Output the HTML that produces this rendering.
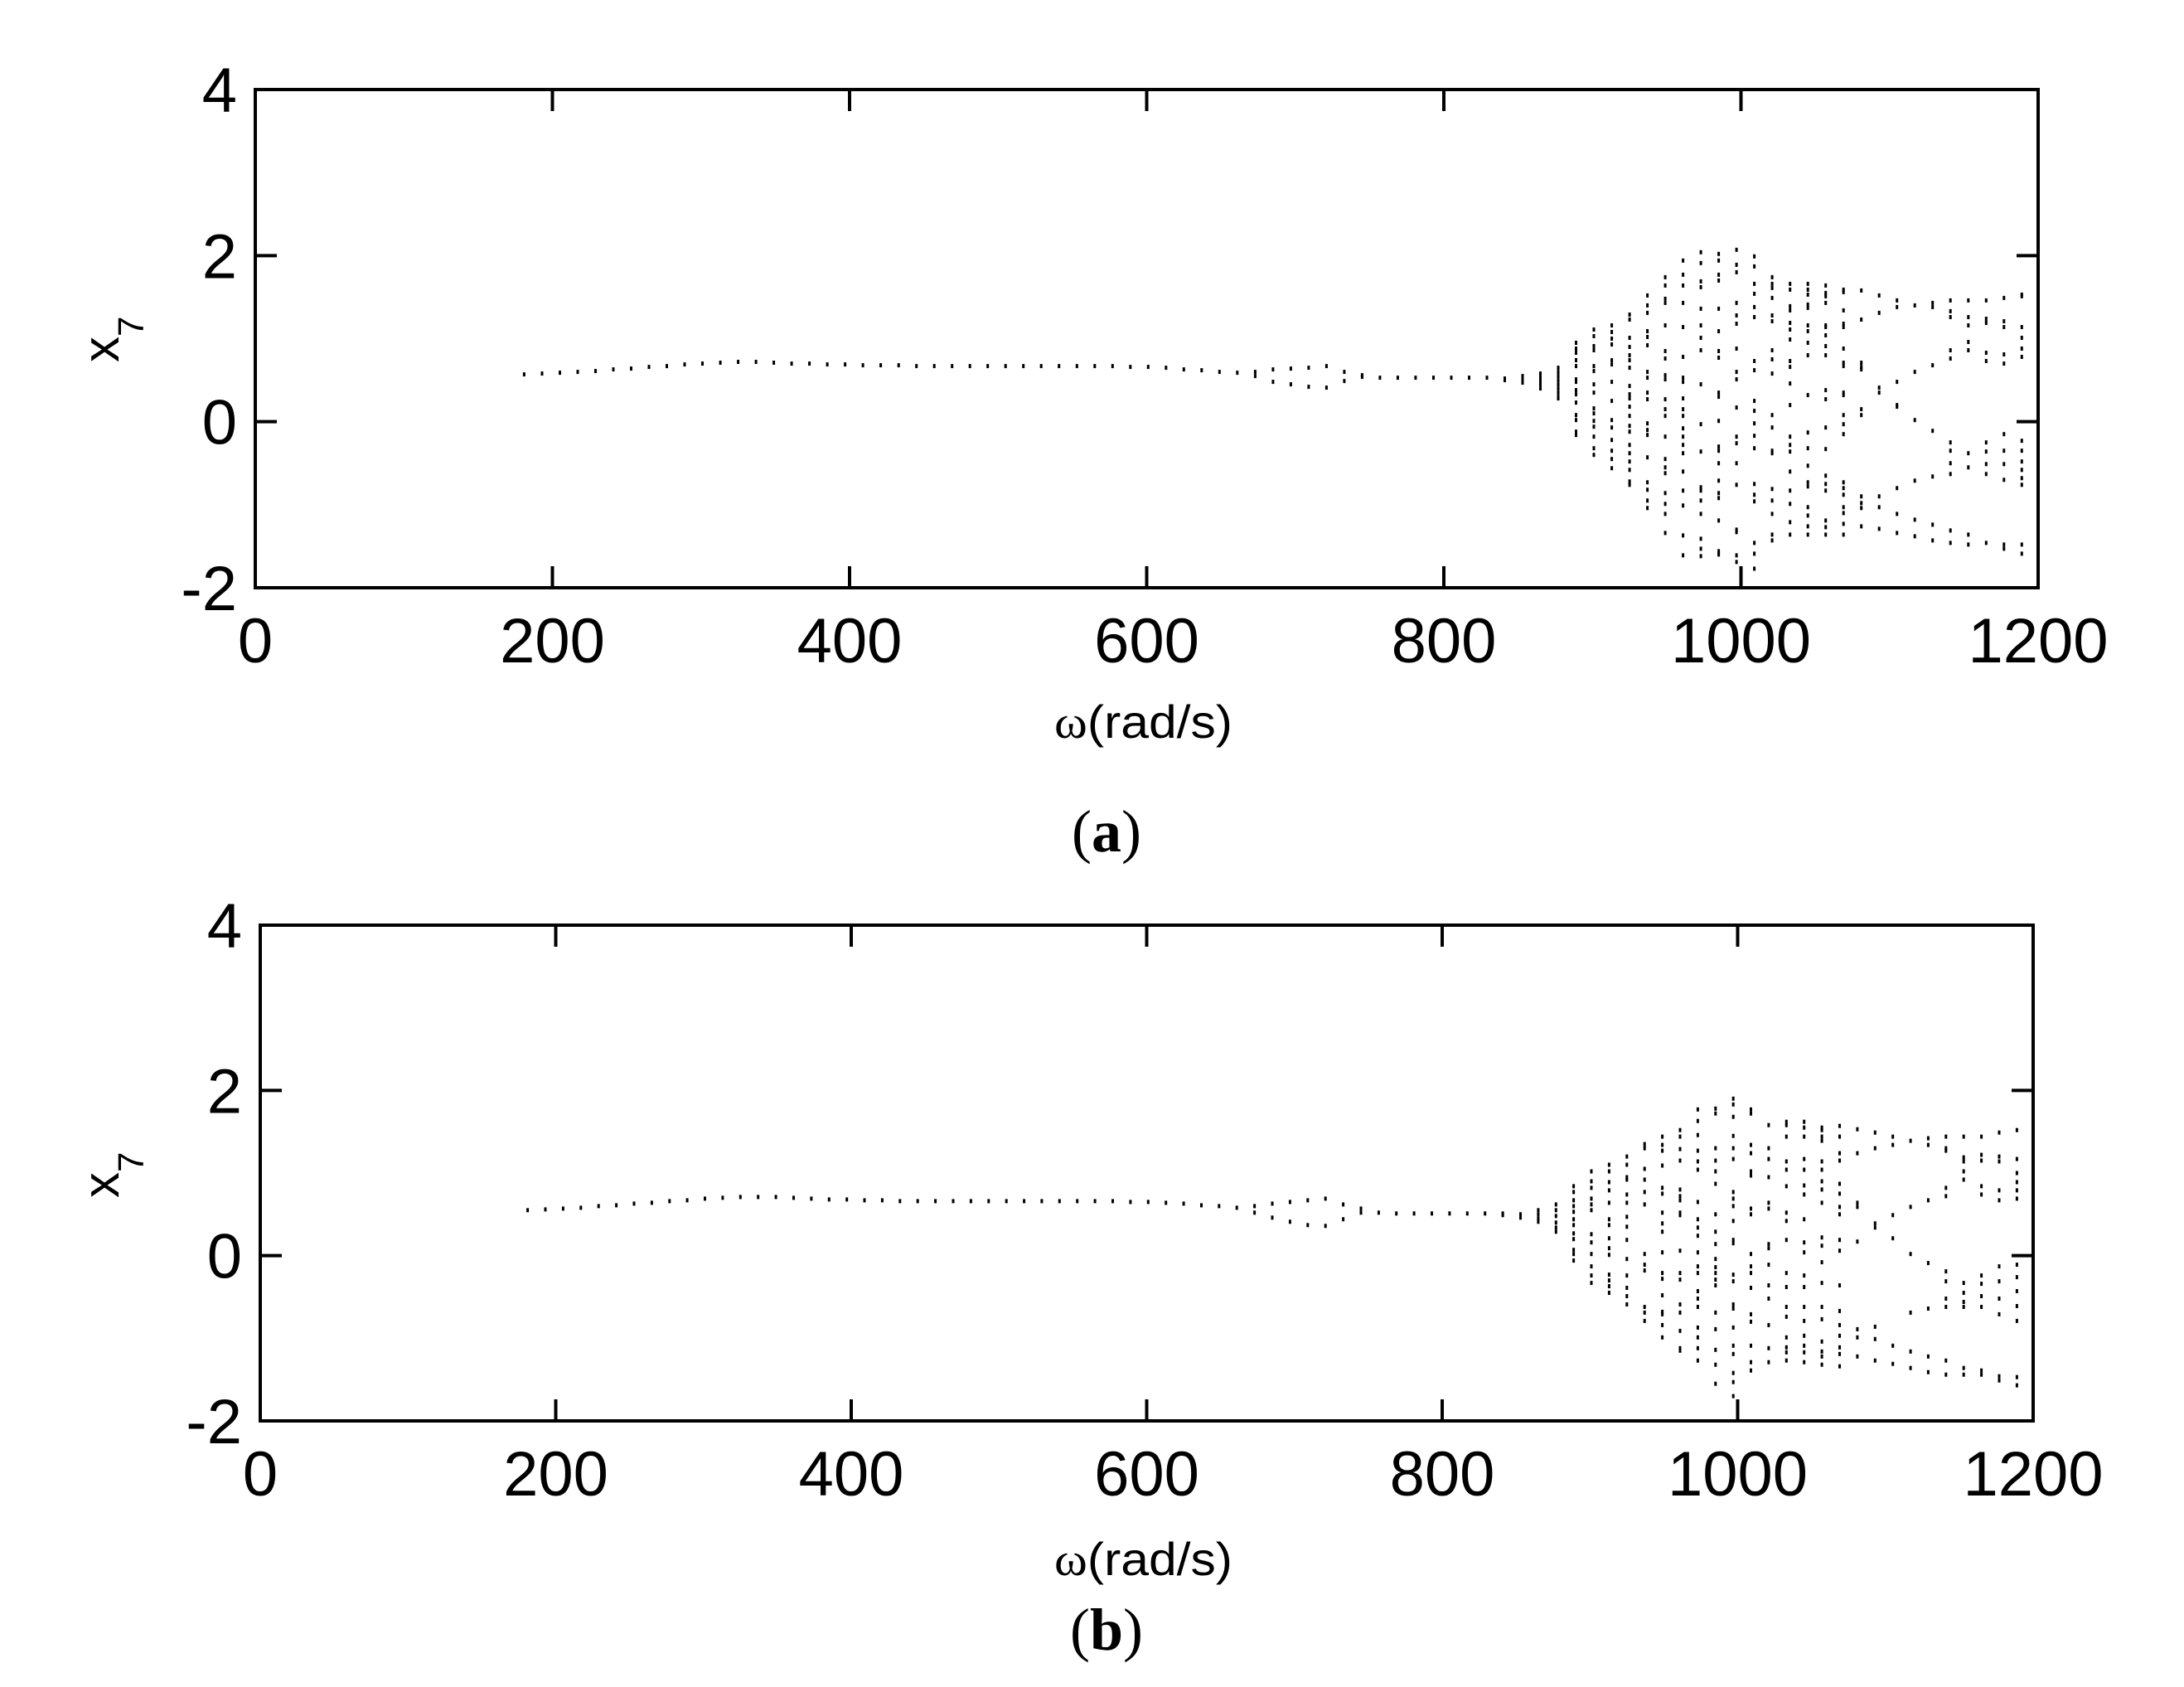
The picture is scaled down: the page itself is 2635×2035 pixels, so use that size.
<!DOCTYPE html>
<html><head><meta charset="utf-8"><title>Bifurcation diagrams x7 vs omega</title>
<style>html,body{margin:0;padding:0;background:#fff}svg{display:block}</style></head>
<body>
<svg id="fig" width="2635" height="2035" viewBox="0 0 2635 2035" xmlns="http://www.w3.org/2000/svg"></svg>
<script>
const omega = [181,193,205,217,229,241,253,265,277,289,301,313,325,337,349,361,373,385,397,409,421,433,445,457,469,481,493,505,517,529,541,553,565,577,589,601,613,625,637,649,661,673,685,697,709,721,733,745,757,769,781,793,805,817,829,841,853,865,877,889,901,913,925,937,949,961,973,985,997,1009,1021,1033,1045,1057,1069,1081,1093,1105,1117,1129,1141,1153,1165,1177,1189];
const xTicks = [0,200,400,600,800,1000,1200];
const yTicks = [-2,0,2,4];
const xTickLabels = ["0","200","400","600","800","1000","1200"];
const yTickLabels = ["-2","0","2","4"];
const seriesA = [
[.57],[.58],[.59],[.60],[.61],[.63],[.64],[.66],[.67],[.69],[.70],[.71],[.72],[.72],[.71],[.70],[.70],[.69],[.69],[.68],[.68],[.68],[.67],[.67],[.67],[.67],[.67],[.67],[.67],[.67],[.67],[.67],[.67],[.67],[.66],[.66],[.65],[.63],[.62],
[.60],[.59],[.60,.55],[.63,.48],[.64,.45],[.65,.42],[.67,.41],[.60,.49],[.56,.54],[.53],[.53],[.53],[.53],[.53],[.53],[.53],[.52,.50],[.55,.52,.50,.47],[.58,.55,.52,.49,.46,.42,.40],[.65,.60,.55,.50,.45,.40,.35,.30,.28],
[0.95,0.88,0.83,0.74,0.67,0.51,0.48,0.38,0.33,0.23,0.08,0.02,-0.12,-0.16],
[1.11,1.03,0.91,0.86,0.67,0.61,0.45,0.35,0.16,0.10,0.01,-0.06,-0.18,-0.32,-0.40],
[1.16,1.08,1.00,0.93,0.74,0.69,0.48,0.25,0.02,-0.07,-0.22,-0.35,-0.45,-0.56],
[1.29,1.23,1.01,0.90,0.80,0.74,0.65,0.43,0.33,0.28,0.18,0.07,-0.05,-0.12,-0.28,-0.38,-0.48,-0.58,-0.72,-0.76],
[1.52,1.40,1.31,1.09,1.02,0.92,0.60,0.53,0.35,0.27,-0.02,-0.10,-0.16,-0.43,-0.73,-0.82,-0.95,-1.04],
[1.74,1.64,1.48,1.43,1.16,0.85,0.76,0.56,0.51,0.27,0.15,0.07,-0.18,-0.45,-0.55,-0.62,-0.86,-0.99,-1.11,-1.34],
[1.94,1.77,1.64,1.43,1.14,0.78,0.53,0.48,0.28,0.15,0.07,-0.08,-0.18,-0.28,-0.38,-0.60,-0.83,-1.01,-1.37,-1.61],
[2.04,1.91,1.69,1.62,1.36,1.16,1.01,0.86,0.45,-0.03,-0.36,-0.79,-0.83,-0.95,-1.11,-1.41,-1.53,-1.62],
[2.02,1.94,1.77,1.70,1.36,1.09,0.85,0.77,0.35,0.30,0.01,-0.30,-0.35,-0.50,-0.71,-0.86,-0.92,-1.19,-1.56,-1.60],
[2.07,1.89,1.80,1.43,1.28,1.18,0.88,0.60,0.51,0.17,-0.18,-0.26,-0.50,-0.76,-1.30,-1.33,-1.61,-1.69],
[1.99,1.87,1.66,1.54,1.38,1.26,0.73,0.62,0.25,0.13,-0.02,-0.17,-0.32,-0.75,-0.88,-0.96,-1.46,-1.59,-1.77],
[1.74,1.66,1.61,1.49,1.28,1.21,0.86,0.75,0.58,0.08,-0.07,-0.35,-0.38,-0.81,-0.95,-1.11,-1.36,-1.43],
[1.66,1.59,1.39,1.34,1.19,1.11,0.99,0.73,0.66,0.46,0.20,-0.18,-0.28,-0.36,-0.60,-0.83,-0.99,-1.21,-1.36],
[1.66,1.59,1.53,1.41,1.37,1.16,1.09,0.95,0.80,0.32,-0.13,-0.32,-0.53,-0.73,-0.78,-1.03,-1.13,-1.26,-1.36],
[1.64,1.55,1.51,1.43,1.16,1.14,1.04,0.91,0.80,0.38,0.27,-0.07,-0.33,-0.65,-0.75,-0.83,-1.19,-1.27,-1.36],
[1.59,1.56,1.34,1.18,1.14,0.88,0.71,0.67,0.35,0.32,0.08,-0.03,-0.15,-0.73,-0.80,-0.88,-1.03,-1.10,-1.23,-1.36],
[1.58,1.23,0.71,0.66,0.63,0.15,0.08,-0.90,-0.98,-1.04,-1.26],
[1.52,1.31,0.41,0.35,-0.90,-1.03,-1.29],
[1.46,1.38,0.48,0.20,0.18,-0.80,-1.11,-1.34],
[1.40,0.60,0.02,-0.71,-1.18,-1.38],
[1.43,1.38,0.68,-0.11,-0.66,-1.24,-1.43],
[1.46,1.33,1.26,0.86,0.76,-0.25,-0.35,-0.50,-0.63,-1.31,-1.46],
[1.46,1.26,1.16,0.96,0.86,-0.38,-0.55,-1.36,-1.48],
[1.46,1.24,1.19,0.83,0.73,-0.25,-0.36,-0.51,-0.63,-1.46],
[1.49,1.21,1.14,0.81,0.70,-0.15,-0.35,-0.51,-0.70,-1.48,-1.53],
[1.53,1.51,1.14,1.01,0.88,0.78,-0.23,-0.35,-0.48,-0.58,-0.68,-0.76,-1.48,-1.59]
];
const seriesB = [
[.55],[.56],[.57],[.58],[.60],[.61],[.63],[.64],[.66],[.67],[.69],[.70],[.71],[.71],[.71],[.70],[.69],[.68],[.68],[.67],[.67],[.66],[.66],[.66],[.66],[.66],[.66],[.66],[.66],[.66],[.66],[.66],[.66],[.66],[.65],[.65],[.64],[.63],[.61],
[.60],[.58],[.60,.52],[.63,.46],[.65,.41],[.67,.37],[.69,.36],[.62,.44],[.57,.52],[.52],[.51],[.51],[.51],[.51],[.51],[.51],[.51,.49],[.50,.46],[.55,.50,.45,.41],[.62,.55,.48,.40,.34,.29],
[.84,.77,.67,.60,.53,.44,.37,.27,.20,.07,.02,-.06],
[1.02,.90,.82,.69,.62,.55,.26,.16,.02,-.13,-.24,-.33],
[1.10,1.02,.89,.79,.64,.44,.37,.21,.09,.01,-.23,-.30,-.37,-.45],
[1.20,1.10,.95,.92,.74,.64,.47,.35,.19,-.04,-.24,-.39,-.49,-.59],
[1.35,1.30,1.05,.92,.77,.62,.02,-.11,-.18,-.62,-.69,-.79],
[1.44,1.34,1.27,1.09,.82,.75,.52,.39,.29,.04,-.21,-.28,-.48,-.68,-.71,-.84,-.99],
[1.52,1.44,1.29,1.15,.80,.72,.67,.52,.49,.06,-.21,-.29,-.59,-.69,-.91,-1.12,-1.15],
[1.77,1.63,1.46,1.27,1.14,1.04,.65,.44,.34,.24,.04,-.13,-.21,-.43,-.52,-.62,-.87,-.99,-1.12,-1.27],
[1.78,1.72,1.30,1.15,1.02,.87,.50,.29,.14,-.04,-.14,-.21,-.29,-.36,-.69,-.89,-1.14,-1.32,-1.55],
[1.90,1.83,1.68,1.45,1.30,1.17,.77,.69,.60,.42,.19,.15,-.23,-.31,-.59,-.64,-.87,-1.09,-1.19,-1.42,-1.53,-1.70],
[1.77,1.72,1.34,1.24,1.02,.97,.57,.50,.02,-.13,-.21,-.39,-.71,-.80,-1.09,-1.29,-1.39],
[1.58,1.30,1.17,.95,.64,.57,.14,.09,-.11,-.36,-.52,-.84,-1.12,-1.29],
[1.62,1.58,1.44,1.14,1.04,.84,.52,.42,.19,-.21,-.38,-.62,-.74,-.99,-1.11,-1.17,-1.27],
[1.62,1.55,1.44,1.17,1.04,.85,.74,.44,.16,.04,-.24,-.38,-.62,-.79,-.97,-1.09,-1.17,-1.29],
[1.55,1.52,1.44,1.39,1.14,1.04,.90,.80,.64,.22,.12,-.08,-.33,-.62,-.77,-1.04,-1.16,-1.22,-1.32],
[1.57,1.44,1.24,1.15,.87,.75,.59,.50,.19,.06,-.36,-.67,-.84,-.97,-1.11,-1.19,-1.34],
[1.53,1.24,.64,.59,.17,-.89,-.99,-1.22],
[1.49,1.30,.39,.34,-.86,-1.01,-1.27],
[1.44,1.34,.49,.21,-1.09,-1.31],
[1.39,.59,.02,-.69,-1.16,-1.36],
[1.42,1.34,.67,-.09,-.64,-1.22,-1.41],
[1.44,1.30,1.27,.82,.72,-.19,-.31,-.52,-.62,-1.27,-1.44],
[1.44,1.19,1.14,1.02,.92,-.33,-.45,-.56,-.62,-1.36,-1.44],
[1.44,1.22,1.15,.84,.74,-.24,-.34,-.49,-.62,-1.39,-1.44],
[1.49,1.20,1.14,.79,.67,-.13,-.31,-.52,-.71,-1.46,-1.51],
[1.52,1.17,1.00,.89,.79,.69,-.11,-.26,-.43,-.61,-.79,-1.47,-1.57]
];

const NS = "http://www.w3.org/2000/svg";
const svg = document.getElementById('fig');
function mk(tag, attrs, parent) {
  const e = document.createElementNS(NS, tag);
  for (const k in attrs) e.setAttribute(k, attrs[k]);
  (parent || svg).appendChild(e);
  return e;
}
function drawPanel(id, box, series, xlabY, captionY, caption) {
  const g = mk('g', {});
  
  
  const X = v => box.l + (v - 0) / 1200 * (box.r - box.l);
  const Y = v => box.b - (v + 2) / 6 * (box.b - box.t);
  const pts = mk('g', {fill: '#000'}, g);
  
  
  for (let i = 0; i < omega.length; i++) {
    const col = series[i] || [];
    for (const v of col) {
      const r = mk('rect', {x: (X(omega[i]) - 1.5).toFixed(1), y: (Y(v) - 2.5).toFixed(1), width: 3, height: 5}, pts);
      
      
    }
  }
  const frame = mk('rect', {x: box.l, y: box.t, width: box.r - box.l, height: box.b - box.t, fill: 'none', stroke: '#000', 'stroke-width': 4}, g);
  
  
  const tl = 26;
  xTicks.forEach((t, i) => {
    const x = X(t);
    mk('line', {x1: x, y1: box.b, x2: x, y2: box.b - tl, stroke: '#000', 'stroke-width': 4}, g);
    mk('line', {x1: x, y1: box.t, x2: x, y2: box.t + tl, stroke: '#000', 'stroke-width': 4}, g);
    const tx = mk('text', {x: x, y: box.b + 90, 'text-anchor': 'middle', 'font-family': 'Liberation Sans, sans-serif', 'font-size': 76}, g);
    tx.textContent = xTickLabels[i];
    
    
  });
  yTicks.forEach((t, i) => {
    const y = Y(t);
    mk('line', {x1: box.l, y1: y, x2: box.l + tl, y2: y, stroke: '#000', 'stroke-width': 4}, g);
    mk('line', {x1: box.r, y1: y, x2: box.r - tl, y2: y, stroke: '#000', 'stroke-width': 4}, g);
    const ty = mk('text', {x: box.l - 22, y: y + 27, 'text-anchor': 'end', 'font-family': 'Liberation Sans, sans-serif', 'font-size': 76}, g);
    ty.textContent = yTickLabels[i];
    
    
  });
  const xl = mk('text', {x: 1272, y: xlabY, 'font-family': 'Liberation Sans, sans-serif', 'font-size': 56, textLength: 215, lengthAdjust: 'spacingAndGlyphs'}, g);
  xl.innerHTML = '<tspan font-family="Liberation Serif, serif">ω</tspan>(rad/s)';
  
  
  const yl = mk('text', {x: 0, y: 0, transform: 'translate(143,' + (box.t + 329) + ') rotate(-90)', 'font-family': 'Liberation Sans, sans-serif', 'font-size': 62}, g);
  yl.innerHTML = 'x<tspan font-size="44" dy="30">7</tspan>';
  
  
  const cap = mk('text', {x: 1335, y: captionY, 'text-anchor': 'middle', 'font-family': 'Liberation Serif, serif', 'font-size': 72}, g);
  cap.innerHTML = '(<tspan font-weight="bold">' + caption + '</tspan>)';
  
  
}
drawPanel('a', {l: 308, r: 2459, t: 108, b: 709}, seriesA, 890, 1027, 'a');
drawPanel('b', {l: 314, r: 2453, t: 1116, b: 1714}, seriesB, 1900, 1990, 'b');
</script>
</body></html>
